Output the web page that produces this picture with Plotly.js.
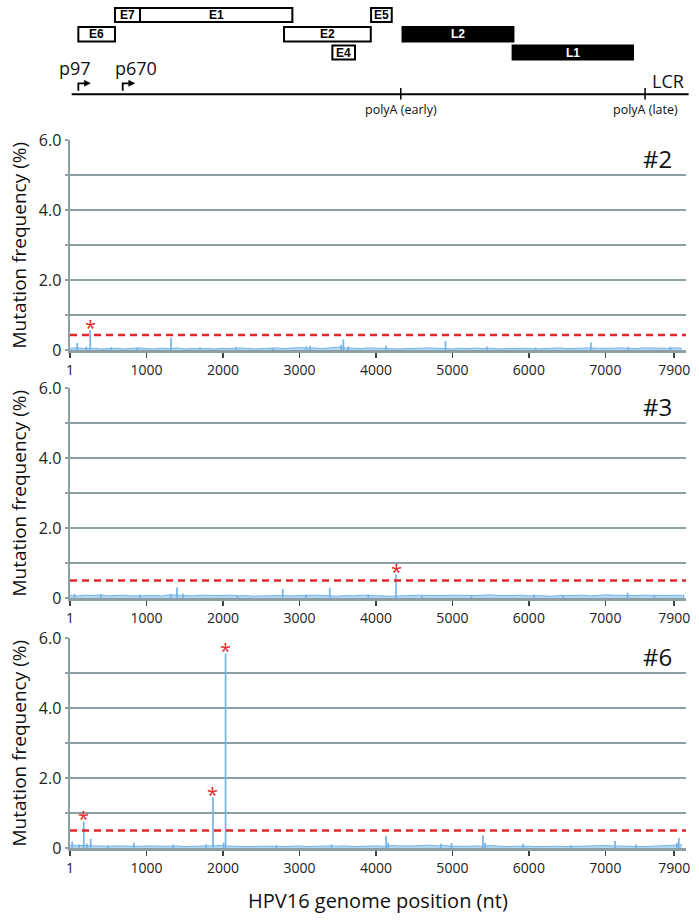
<!DOCTYPE html>
<html>
<head>
<meta charset="utf-8">
<script src="https://cdn.plot.ly/plotly-3.0.1.min.js"></script>
<style>html,body{margin:0;padding:0;background:#fff}#chart{width:699px;height:923px}</style>
</head>
<body>
<div id="chart"></div>
<script>
// ---------------- DATA ----------------
// x-axis tick labels (genome position, nt)
const xTickVals = [1, 1000, 2000, 3000, 4000, 5000, 6000, 7000, 7900];
const xTickText = ['1', '1000', '2000', '3000', '4000', '5000', '6000', '7000', '7900'];
const yTickVals = [0, 1, 2, 3, 4, 5, 6];
const yTickText = ['0', '', '2.0', '', '4.0', '', '6.0'];

// sample names
const samples = ['#2', '#3', '#6'];
// significance thresholds (%) – red dashed lines
const thresholds = [0.43, 0.5, 0.5];

// background (low level) mutation frequency, sampled positions (nt)
const bgPos = [1,100,200,300,400,500,600,700,800,900,
  1000,1100,1200,1300,1400,1500,1600,1700,1800,1900,
  2000,2100,2200,2300,2400,2500,2600,2700,2800,2900,
  3000,3100,3200,3300,3400,3500,3600,3700,3800,3900,
  4000,4100,4200,4300,4400,4500,4600,4700,4800,4900,
  5000,5100,5200,5300,5400,5500,5600,5700,5800,5900,
  6000,6100,6200,6300,6400,6500,6600,6700,6800,6900,
  7000,7100,7200,7300,7400,7500,7600,7700,7800,7900,8000];
const bg2 = [0.05,0.06,0.04,0.05,0.03,0.04,0.05,0.03,0.04,0.06,
  0.04,0.03,0.05,0.04,0.06,0.03,0.04,0.05,0.04,0.03,
  0.05,0.04,0.06,0.05,0.03,0.04,0.05,0.06,0.04,0.05,
  0.07,0.05,0.06,0.04,0.05,0.08,0.06,0.05,0.04,0.06,
  0.05,0.04,0.05,0.03,0.04,0.05,0.04,0.06,0.05,0.04,
  0.03,0.05,0.04,0.06,0.04,0.05,0.03,0.04,0.05,0.04,
  0.05,0.03,0.04,0.05,0.06,0.04,0.05,0.04,0.06,0.05,
  0.04,0.05,0.06,0.05,0.04,0.06,0.05,0.04,0.05,0.06,0.05];
const bg3 = [0.07,0.06,0.08,0.07,0.09,0.06,0.07,0.08,0.06,0.07,
  0.08,0.07,0.06,0.09,0.08,0.07,0.06,0.08,0.07,0.06,
  0.07,0.08,0.06,0.07,0.05,0.06,0.07,0.08,0.07,0.06,
  0.07,0.06,0.08,0.07,0.06,0.05,0.07,0.06,0.08,0.07,
  0.06,0.07,0.05,0.06,0.07,0.06,0.08,0.07,0.06,0.07,
  0.08,0.07,0.06,0.07,0.08,0.09,0.07,0.06,0.07,0.08,
  0.06,0.07,0.06,0.05,0.07,0.06,0.07,0.08,0.06,0.07,
  0.09,0.08,0.07,0.06,0.07,0.08,0.07,0.06,0.07,0.08,0.07];
const bg6 = [0.08,0.07,0.06,0.05,0.04,0.05,0.06,0.05,0.04,0.05,
  0.06,0.05,0.04,0.05,0.06,0.04,0.05,0.06,0.05,0.08,
  0.07,0.05,0.04,0.05,0.04,0.05,0.06,0.05,0.04,0.05,
  0.06,0.04,0.05,0.04,0.06,0.05,0.06,0.04,0.05,0.04,
  0.06,0.05,0.07,0.06,0.05,0.06,0.07,0.08,0.06,0.07,
  0.05,0.04,0.05,0.06,0.05,0.07,0.05,0.04,0.05,0.06,
  0.05,0.04,0.05,0.06,0.05,0.04,0.05,0.04,0.05,0.06,
  0.07,0.06,0.05,0.06,0.05,0.04,0.05,0.06,0.07,0.08,0.09];

// individual position spikes
const spikePos2 = [95,215,265,540,880,1322,1700,2172,2650,3090,3140,3545,3575,3640,4133,4910,5450,6090,6810,7300,7850];
const spikeVal2 = [0.2,0.1,0.57,0.08,0.07,0.35,0.07,0.08,0.06,0.1,0.12,0.15,0.3,0.1,0.12,0.25,0.1,0.07,0.22,0.08,0.09];
const spikePos3 = [60,406,916,1318,1400,1480,2190,2782,3086,3397,3900,4263,4600,5250,6068,6450,7291,7640,8020];
const spikeVal3 = [0.12,0.1,0.1,0.12,0.3,0.12,0.08,0.26,0.1,0.29,0.1,0.68,0.08,0.07,0.1,0.08,0.15,0.08,0.1];
const spikePos6 = [30,120,181,223,272,500,835,1350,1780,1870,2010,2035,2700,3420,4133,4160,4850,4990,5400,5430,5925,6550,7127,7400,7935,7960];
const spikeVal6 = [0.18,0.1,0.75,0.12,0.26,0.08,0.15,0.1,0.1,1.45,0.15,5.55,0.08,0.1,0.35,0.15,0.12,0.14,0.36,0.15,0.12,0.08,0.2,0.1,0.15,0.28];

// genome map (nt)
const genes = ['E6', 'E7', 'E1', 'E2', 'E4', 'E5', 'L2', 'L1'];
const geneStart = [110, 589, 916, 2799, 3431, 3937, 4348, 5787];
const geneEnd = [589, 916, 2908, 3933, 3727, 4207, 5798, 7361];
const promoterNames = ['p97', 'p670'];
const promoterPos = [110, 690];
const polyANames = ['polyA (early)', 'polyA (late)'];
const polyAPos = [4325, 7519];
const genomeExtent = [23, 8088];

// ---------------- LAYOUT CONSTANTS ----------------
const W = 699, H = 923;
const XMAX = 8054;
const X0PX = 70, X1PX = 686;
const PXPERNT = (X1PX - X0PX) / (XMAX - 1);
const panelsPx = [[140, 350], [388, 598], [638, 848]];
const BLUE = '#72b4e8';
const BAND = '#b3d8f4';
const GRID = '#8e9ea5';
const RED = '#e4262c';
const FONT = 'Open Sans, Noto Sans, sans-serif';
const BOXFONT = 'Liberation Sans, Arial, sans-serif';
const rowOf = {E7: 0, E1: 0, E5: 0, E6: 1, E2: 1, L2: 1, E4: 2, L1: 2};
const rowY = [[8, 22], [27, 41.5], [45.5, 59.5]];
const promoterLabelShift = [-3, 13];

const bgs = [bg2, bg3, bg6];
const spikePos = [spikePos2, spikePos3, spikePos6];
const spikeVal = [spikeVal2, spikeVal3, spikeVal6];

const traces = [];
const annotations = [];
const shapes = [];
const layout = {
  width: W, height: H,
  margin: {l: 0, r: 0, t: 0, b: 0, pad: 0},
  paper_bgcolor: '#fff', plot_bgcolor: '#fff',
  showlegend: false,
  font: {family: FONT, color: '#1a1a1a'}
};
const xdom = [X0PX / W, X1PX / W];

panelsPx.forEach((p, i) => {
  const sfx = i === 0 ? '' : String(i + 1);
  const xa = 'x' + sfx, ya = 'y' + sfx;
  layout['xaxis' + sfx] = {
    domain: xdom, range: [1, XMAX], anchor: ya,
    tickmode: 'array', tickvals: xTickVals, ticktext: xTickText,
    ticks: 'outside', ticklen: 5, tickwidth: 1.5, tickcolor: '#444',
    showline: true, linecolor: GRID, linewidth: 3,
    showgrid: false, zeroline: false,
    tickfont: {family: FONT, size: 14, color: '#222'}, fixedrange: true
  };
  layout['yaxis' + sfx] = {
    domain: [1 - p[1] / H, 1 - p[0] / H], range: [0, 6], anchor: xa,
    tickmode: 'array', tickvals: yTickVals, ticktext: yTickText,
    showgrid: true, gridcolor: GRID, gridwidth: 2,
    showline: true, linecolor: GRID, linewidth: 2.5,
    ticks: 'outside', ticklen: 3, tickwidth: 2, tickcolor: GRID,
    zeroline: false,
    tickfont: {family: FONT, size: 16, color: '#222'}, fixedrange: true
  };
  traces.push({
    type: 'scatter', mode: 'lines', x: bgPos, y: bgs[i], xaxis: xa, yaxis: ya,
    fill: 'tozeroy', fillcolor: BAND,
    line: {color: BLUE, width: 1}, hoverinfo: 'skip'
  });
  const sx = [], sy = [];
  spikePos[i].forEach((pos, j) => { sx.push(pos, pos, null); sy.push(0, spikeVal[i][j], null); });
  traces.push({
    type: 'scatter', mode: 'lines', x: sx, y: sy, xaxis: xa, yaxis: ya,
    line: {color: BLUE, width: 1.7}, hoverinfo: 'skip', connectgaps: false
  });
  traces.push({
    type: 'scatter', mode: 'lines', x: [1, XMAX], y: [thresholds[i], thresholds[i]],
    xaxis: xa, yaxis: ya,
    line: {color: RED, width: 2.5, dash: '7px,5px'}, hoverinfo: 'skip'
  });
  spikePos[i].forEach((pos, j) => {
    if (spikeVal[i][j] > thresholds[i]) {
      annotations.push({
        xref: xa, yref: ya, x: pos, y: spikeVal[i][j], text: '*',
        showarrow: false, yanchor: 'middle', xanchor: 'center', yshift: 3,
        font: {family: FONT, size: 20, color: RED}
      });
    }
  });
  annotations.push({
    xref: 'paper', yref: 'paper', x: 674 / W, y: 1 - (p[0] + 18.5) / H,
    text: samples[i], showarrow: false, xanchor: 'right', yanchor: 'middle',
    font: {family: FONT, size: 24, color: '#111'}
  });
  annotations.push({
    xref: 'paper', yref: 'paper', x: 18.5 / W, y: 1 - (p[0] + p[1]) / 2 / H,
    text: 'Mutation frequency (%)', textangle: -90, showarrow: false,
    xanchor: 'center', yanchor: 'middle',
    font: {family: FONT, size: 19, color: '#111'}
  });
});

annotations.push({
  xref: 'paper', yref: 'paper', x: (X0PX + X1PX) / 2 / W, y: 1 - 900 / H,
  text: 'HPV16 genome position (nt)', showarrow: false, xanchor: 'center', yanchor: 'middle',
  font: {family: FONT, size: 20, color: '#111'}
});

// ---------------- GENOME MAP ----------------
layout.xaxis4 = {
  domain: [0, 1], range: [1 - X0PX / PXPERNT, 1 + (W - X0PX) / PXPERNT],
  anchor: 'y4', visible: false, fixedrange: true
};
layout.yaxis4 = {
  domain: [1 - 120 / H, 1], range: [120, 0], anchor: 'x4', visible: false, fixedrange: true
};
traces.push({type: 'scatter', mode: 'markers', x: [genomeExtent[0]], y: [200], xaxis: 'x4', yaxis: 'y4',
  marker: {opacity: 0}, hoverinfo: 'skip'});

genes.forEach((g, i) => {
  const r = rowY[rowOf[g]];
  const late = g.startsWith('L');
  shapes.push({
    type: 'rect', xref: 'x4', yref: 'y4', x0: geneStart[i], x1: geneEnd[i], y0: r[0], y1: r[1],
    line: {color: '#000', width: 2}, fillcolor: late ? '#000' : '#fff', layer: 'above'
  });
  annotations.push({
    xref: 'x4', yref: 'y4', x: (geneStart[i] + geneEnd[i]) / 2, y: (r[0] + r[1]) / 2,
    text: '<b>' + g + '</b>', showarrow: false, xanchor: 'center', yanchor: 'middle',
    font: {family: BOXFONT, size: 12, color: late ? '#fff' : '#000'}
  });
});
shapes.push({type: 'line', xref: 'x4', yref: 'y4', x0: genomeExtent[0], x1: genomeExtent[1], y0: 94.3, y1: 94.3,
  line: {color: '#000', width: 2}});
polyAPos.forEach((pos, i) => {
  shapes.push({type: 'line', xref: 'x4', yref: 'y4', x0: pos, x1: pos, y0: 88, y1: 99.5,
    line: {color: '#000', width: 1.5}});
  annotations.push({
    xref: 'x4', yref: 'y4', x: pos, y: 109, text: polyANames[i], showarrow: false,
    xanchor: 'center', yanchor: 'middle', font: {family: FONT, size: 12.5, color: '#111'}
  });
});
promoterPos.forEach((pos, i) => {
  const d = 7 / PXPERNT, h0 = 6 / PXPERNT, h1 = 12 / PXPERNT;
  shapes.push({type: 'path', xref: 'x4', yref: 'y4',
    path: `M ${pos} 90.7 L ${pos} 83.3 L ${pos + d} 83.3`,
    line: {color: '#000', width: 1.8}});
  shapes.push({type: 'path', xref: 'x4', yref: 'y4',
    path: `M ${pos + h0} 80.3 L ${pos + h1} 83.3 L ${pos + h0} 86.3 Z`,
    line: {color: '#000', width: 0.5}, fillcolor: '#000'});
  annotations.push({
    xref: 'x4', yref: 'y4', x: pos, y: 68, text: promoterNames[i], showarrow: false,
    xanchor: 'center', yanchor: 'middle', xshift: promoterLabelShift[i],
    font: {family: FONT, size: 18, color: '#111'}
  });
});
annotations.push({
  xref: 'paper', yref: 'y4', x: 667.5 / W, y: 81, text: 'LCR', showarrow: false,
  xanchor: 'center', yanchor: 'middle', font: {family: FONT, size: 18, color: '#111'}
});

layout.annotations = annotations;
layout.shapes = shapes;

Plotly.newPlot('chart', traces, layout, {staticPlot: true, displayModeBar: false});
</script>
</body>
</html>
